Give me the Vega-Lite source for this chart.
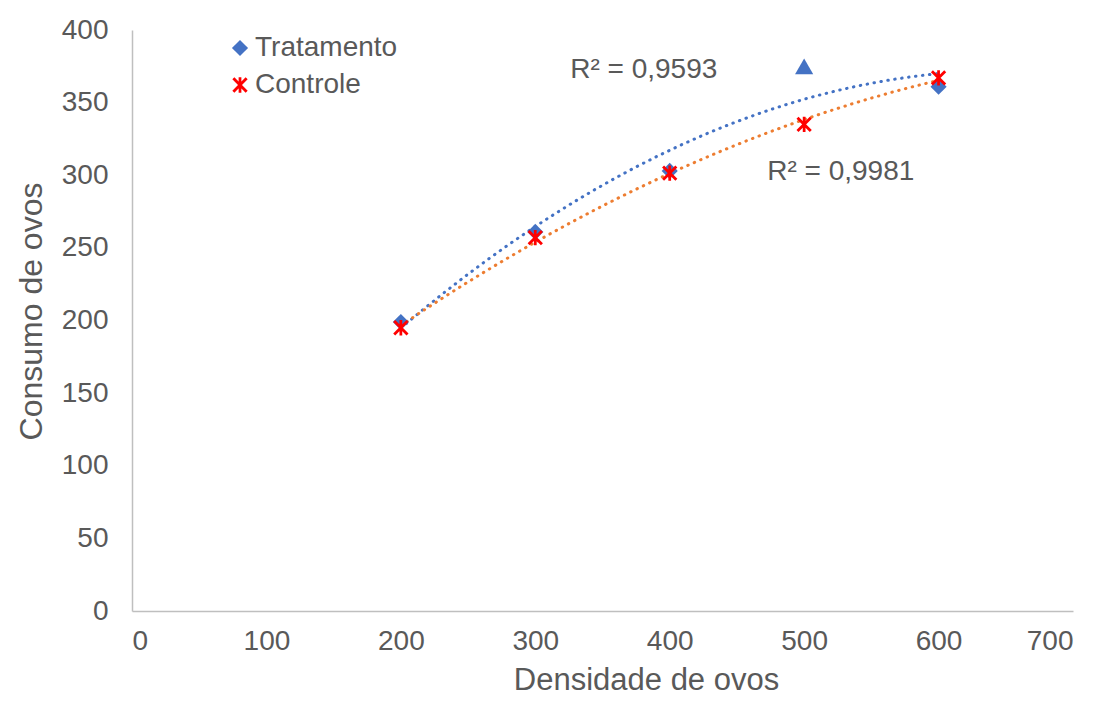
{
  "$schema": "https://vega.github.io/schema/vega-lite/v6.json",
  "width": 941,
  "height": 581,
  "autosize": {"type": "none"},
  "padding": {"left": 132, "top": 30, "right": 26, "bottom": 93},
  "background": "white",
  "config": {
    "view": {"stroke": null},
    "font": "Liberation Sans",
    "axis": {
      "grid": false,
      "ticks": false,
      "domainColor": "#BFBFBF",
      "domainWidth": 1.5,
      "labelColor": "#595959",
      "titleColor": "#595959",
      "labelFont": "Liberation Sans",
      "titleFont": "Liberation Sans",
      "labelFontSize": 28,
      "titleFontSize": 31,
      "titleFontWeight": "normal"
    },
    "legend": {
      "labelFont": "Liberation Sans",
      "labelFontSize": 28,
      "labelColor": "#595959"
    }
  },
  "datasets": {
    "pontos": [
      {"densidade": 200, "consumo": 199, "serie": "Tratamento"},
      {"densidade": 300, "consumo": 261, "serie": "Tratamento"},
      {"densidade": 400, "consumo": 303, "serie": "Tratamento"},
      {"densidade": 500, "consumo": 375, "serie": "Tratamento"},
      {"densidade": 600, "consumo": 361, "serie": "Tratamento"},
      {"densidade": 200, "consumo": 195, "serie": "Controle"},
      {"densidade": 300, "consumo": 257, "serie": "Controle"},
      {"densidade": 400, "consumo": 301.5, "serie": "Controle"},
      {"densidade": 500, "consumo": 335, "serie": "Controle"},
      {"densidade": 600, "consumo": 367, "serie": "Controle"}
    ],
    "rotulos": [
      {"densidade": 326, "consumo": 372.5, "texto": "R² = 0,9593"},
      {"densidade": 472.5, "consumo": 302, "texto": "R² = 0,9981"}
    ]
  },
  "layer": [
    {
      "data": {"name": "pontos"},
      "transform": [
        {"filter": "datum.serie === 'Tratamento'"},
        {"regression": "consumo", "on": "densidade", "method": "poly", "order": 2}
      ],
      "mark": {"type": "line", "color": "#4472C4", "strokeWidth": 3, "strokeDash": [0.5, 6.5], "strokeCap": "round"},
      "encoding": {
        "x": {"field": "densidade", "type": "quantitative"},
        "y": {"field": "consumo", "type": "quantitative"}
      }
    },
    {
      "data": {"name": "pontos"},
      "transform": [
        {"filter": "datum.serie === 'Controle'"},
        {"regression": "consumo", "on": "densidade", "method": "poly", "order": 2}
      ],
      "mark": {"type": "line", "color": "#ED7D31", "strokeWidth": 3, "strokeDash": [0.5, 6.5], "strokeCap": "round"},
      "encoding": {
        "x": {"field": "densidade", "type": "quantitative"},
        "y": {"field": "consumo", "type": "quantitative"}
      }
    },
    {
      "data": {"name": "pontos"},
      "transform": [
        {"filter": "!(datum.serie === 'Tratamento' && datum.densidade === 500)"}
      ],
      "mark": {"type": "point", "filled": true, "opacity": 1, "size": 260, "strokeWidth": 0},
      "encoding": {
        "x": {
          "field": "densidade", "type": "quantitative",
          "scale": {"domain": [0, 700], "nice": false, "zero": true},
          "axis": {"values": [0, 100, 200, 300, 400, 500, 600, 700], "title": "Densidade de ovos", "labelPadding": 16, "titlePadding": 10, "titleX": 514}
        },
        "y": {
          "field": "consumo", "type": "quantitative",
          "scale": {"domain": [0, 400], "nice": false},
          "axis": {"values": [0, 50, 100, 150, 200, 250, 300, 350, 400], "title": "Consumo de ovos", "labelPadding": 24, "titlePadding": 13, "titleFontSize": 32, "titleY": 281}
        },
        "color": {
          "field": "serie", "type": "nominal",
          "scale": {"domain": ["Tratamento", "Controle"], "range": ["#4472C4", "#FF0000"]},
          "legend": {
            "title": null, "orient": "none", "legendX": 94, "legendY": 4,
            "symbolSize": 260, "symbolStrokeWidth": 0, "rowPadding": 9, "labelOffset": 1, "padding": 0
          }
        },
        "shape": {
          "field": "serie", "type": "nominal",
          "scale": {"domain": ["Tratamento", "Controle"], "range": ["diamond", "M-0.17,-0.95L-0.17,0.95L0.17,0.95L0.17,-0.95ZM-0.95,-0.7L0.7,0.95L0.95,0.7L-0.7,-0.95ZM-0.7,0.95L0.95,-0.7L0.7,-0.95L-0.95,0.7Z"]},
          "legend": {
            "title": null, "orient": "none", "legendX": 94, "legendY": 4,
            "symbolSize": 260, "symbolStrokeWidth": 0, "rowPadding": 9, "labelOffset": 1, "padding": 0
          }
        }
      }
    },
    {
      "data": {"name": "pontos"},
      "transform": [
        {"filter": "datum.serie === 'Tratamento' && datum.densidade === 500"}
      ],
      "mark": {"type": "point", "shape": "triangle-up", "filled": true, "opacity": 1, "size": 330, "strokeWidth": 0, "color": "#4472C4"},
      "encoding": {
        "x": {"field": "densidade", "type": "quantitative"},
        "y": {"field": "consumo", "type": "quantitative"}
      }
    },
    {
      "data": {"name": "rotulos"},
      "mark": {"type": "text", "align": "left", "baseline": "middle", "fontSize": 28, "color": "#595959", "font": "Liberation Sans"},
      "encoding": {
        "x": {"field": "densidade", "type": "quantitative"},
        "y": {"field": "consumo", "type": "quantitative"},
        "text": {"field": "texto"}
      }
    }
  ]
}
